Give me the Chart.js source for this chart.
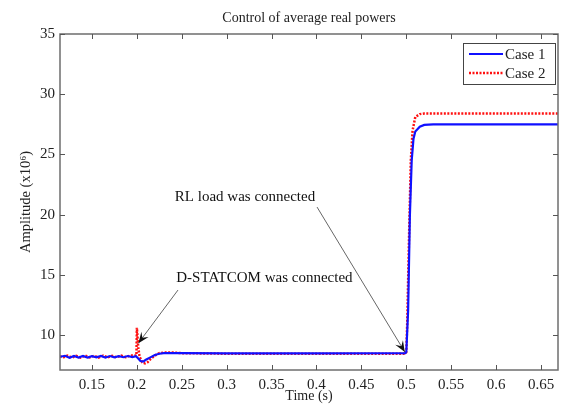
<!DOCTYPE html>
<html>
<head>
<meta charset="utf-8">
<script src="https://cdn.jsdelivr.net/npm/chart.js@4.4.1/dist/chart.umd.min.js"></script>
<style>
html,body{margin:0;padding:0;background:#fff;}
#wrap{width:572px;height:405px;position:relative;}
</style>
</head>
<body>
<div id="wrap"><canvas id="c" width="572" height="405"></canvas></div>
<script>
// ---- data ----
const titleText = "Control of average real powers";
const xLabel = "Time (s)";
const yLabel = "Amplitude (x10\u2076)";
const xTicks = [0.15,0.2,0.25,0.3,0.35,0.4,0.45,0.5,0.55,0.6,0.65];
const yTicks = [10,15,20,25,30,35];
const xRange = [0.1144, 0.6689];
const yRange = [7.1, 35];

const case1T = [0.1144,0.12,0.125,0.13,0.135,0.14,0.145,0.15,0.155,0.16,0.165,0.17,0.175,0.18,0.185,0.19,0.195,0.199,0.201,0.204,0.207,0.21,0.215,0.22,0.225,0.23,0.24,0.25,0.3,0.4,0.499,0.5,0.502,0.504,0.506,0.508,0.51,0.515,0.52,0.53,0.55,0.6,0.6689];
const case1V = [8.2,8.28,8.12,8.26,8.14,8.27,8.13,8.25,8.15,8.27,8.14,8.26,8.15,8.25,8.16,8.26,8.17,8.25,8.1,7.85,7.8,7.95,8.15,8.35,8.45,8.5,8.5,8.5,8.48,8.48,8.5,8.6,12,20,24.5,26.3,26.9,27.3,27.45,27.5,27.5,27.5,27.5];

const case2T = [0.1144,0.1175,0.1225,0.1275,0.1325,0.1375,0.1425,0.1475,0.1525,0.1575,0.1625,0.1675,0.1725,0.1775,0.1825,0.1875,0.1925,0.1995,0.2,0.2015,0.203,0.206,0.209,0.212,0.215,0.22,0.225,0.23,0.24,0.25,0.3,0.4,0.499,0.5,0.501,0.503,0.505,0.507,0.51,0.515,0.52,0.55,0.6,0.6689];
const case2V = [8.25,8.12,8.3,8.13,8.28,8.12,8.3,8.14,8.29,8.13,8.3,8.14,8.28,8.15,8.3,8.16,8.3,8.3,10.6,9.0,8.2,7.75,7.65,7.75,8.0,8.3,8.5,8.55,8.55,8.5,8.45,8.45,8.45,8.6,11,18,24.5,27,28.1,28.35,28.4,28.4,28.4,28.4];

const seriesNames = ["Case 1","Case 2"];

// annotations: text positions and arrows in data coordinates
const notes = [
  {text:"RL load was connected", x:0.3204, y:21.46, from:[0.4006,20.63], to:[0.4983,8.6]},
  {text:"D-STATCOM was connected", x:0.342, y:14.73, from:[0.2458,13.74], to:[0.2017,9.33]}
];

const FONT = "'Liberation Serif', 'Times New Roman', serif";

function pts(t,v){ return t.map((x,i)=>({x:x,y:v[i]})); }

const decor = {
  id:'decor',
  afterDraw(chart){
    const ctx = chart.ctx, a = chart.chartArea;
    const xs = chart.scales.x, ys = chart.scales.y;
    ctx.save();
    // box
    ctx.strokeStyle = '#6e6e6e';
    ctx.lineWidth = 1.5;
    ctx.strokeRect(a.left, a.top, a.right-a.left, a.bottom-a.top);
    // inward ticks
    ctx.lineWidth = 1;
    ctx.strokeStyle = '#555';
    const L = 5;
    ctx.beginPath();
    xTicks.forEach(t=>{
      const px = Math.round(xs.getPixelForValue(t))+0.5;
      ctx.moveTo(px,a.bottom); ctx.lineTo(px,a.bottom-L);
      ctx.moveTo(px,a.top); ctx.lineTo(px,a.top+L);
    });
    yTicks.forEach(t=>{
      const py = Math.round(ys.getPixelForValue(t))+0.5;
      ctx.moveTo(a.left,py); ctx.lineTo(a.left+L,py);
      ctx.moveTo(a.right,py); ctx.lineTo(a.right-L,py);
    });
    ctx.stroke();

    // title
    ctx.fillStyle = '#222';
    ctx.font = '14px ' + FONT;
    ctx.textAlign = 'center';
    ctx.textBaseline = 'middle';
    ctx.fillText(titleText, (a.left+a.right)/2, 18);

    // annotations
    ctx.font = '15px ' + FONT;
    notes.forEach(n=>{
      ctx.fillStyle = '#111';
      ctx.textAlign='center'; ctx.textBaseline='middle';
      ctx.fillText(n.text, xs.getPixelForValue(n.x), ys.getPixelForValue(n.y));
      const x0 = xs.getPixelForValue(n.from[0]), y0 = ys.getPixelForValue(n.from[1]);
      const x1 = xs.getPixelForValue(n.to[0]), y1 = ys.getPixelForValue(n.to[1]);
      ctx.strokeStyle = '#666'; ctx.lineWidth = 1;
      ctx.beginPath(); ctx.moveTo(x0,y0); ctx.lineTo(x1,y1); ctx.stroke();
      const ang = Math.atan2(y1-y0, x1-x0);
      const hl = 11, hw = 4.5;
      const bx = x1 - hl*Math.cos(ang), by = y1 - hl*Math.sin(ang);
      const nx = -Math.sin(ang), ny = Math.cos(ang);
      ctx.fillStyle = '#111';
      ctx.beginPath();
      ctx.moveTo(x1,y1);
      ctx.lineTo(bx + nx*hw, by + ny*hw);
      ctx.lineTo(x1 - 0.6*hl*Math.cos(ang), y1 - 0.6*hl*Math.sin(ang));
      ctx.lineTo(bx - nx*hw, by - ny*hw);
      ctx.closePath(); ctx.fill();
    });

    // legend box
    const lx = 463, ly = 43, lw = 92, lh = 41;
    ctx.fillStyle = '#fff';
    ctx.fillRect(lx,ly,lw,lh);
    ctx.strokeStyle = '#444'; ctx.lineWidth = 1;
    ctx.strokeRect(lx+0.5,ly+0.5,lw,lh);
    const ds = chart.data.datasets;
    ds.forEach((d,i)=>{
      const yy = ly + 11 + i*19;
      ctx.strokeStyle = d.borderColor;
      ctx.lineWidth = d.borderWidth;
      ctx.setLineDash(d.borderDash || []);
      ctx.beginPath(); ctx.moveTo(lx+6,yy); ctx.lineTo(lx+40,yy); ctx.stroke();
      ctx.setLineDash([]);
      ctx.fillStyle = '#222';
      ctx.font = '15px ' + FONT;
      ctx.textAlign='left'; ctx.textBaseline='middle';
      ctx.fillText(d.label, lx+42, yy+1);
    });
    ctx.restore();
  }
};

new Chart(document.getElementById('c'), {
  type:'line',
  data:{
    datasets:[
      {label:seriesNames[0], data:pts(case1T,case1V), borderColor:'#1010ff', borderWidth:2.2, pointRadius:0, tension:0, fill:false},
      {label:seriesNames[1], data:pts(case2T,case2V), borderColor:'#ff1010', borderWidth:2.5, borderDash:[2,1.5], pointRadius:0, tension:0, fill:false}
    ]
  },
  options:{
    responsive:false,
    animation:false,
    events:[],
    layout:{padding:{left:0,right:14,top:34,bottom:0}},
    plugins:{legend:{display:false}, tooltip:{enabled:false}, title:{display:false}},
    scales:{
      x:{
        type:'linear', min:xRange[0], max:xRange[1],
        afterBuildTicks(s){ s.ticks = xTicks.map(v=>({value:v})); },
        afterFit(s){ s.height = 35; },
        grid:{display:false, drawTicks:false},
        border:{display:false},
        ticks:{padding:6, color:'#222', font:{family:FONT, size:15}, maxRotation:0, autoSkip:false,
               callback:(v)=>String(+v.toFixed(2))},
        title:{display:true, text:xLabel, color:'#222', font:{family:FONT, size:14}, padding:{top:0,bottom:0}}
      },
      y:{
        type:'linear', min:yRange[0], max:yRange[1],
        afterBuildTicks(s){ s.ticks = yTicks.map(v=>({value:v})); },
        afterFit(s){ s.width = 60; },
        grid:{display:false, drawTicks:false},
        border:{display:false},
        ticks:{padding:5, color:'#222', font:{family:FONT, size:15}, autoSkip:false},
        title:{display:true, text:yLabel, color:'#222', font:{family:FONT, size:14.5}, padding:{top:17,bottom:0}}
      }
    }
  },
  plugins:[decor]
});
</script>
</body>
</html>
